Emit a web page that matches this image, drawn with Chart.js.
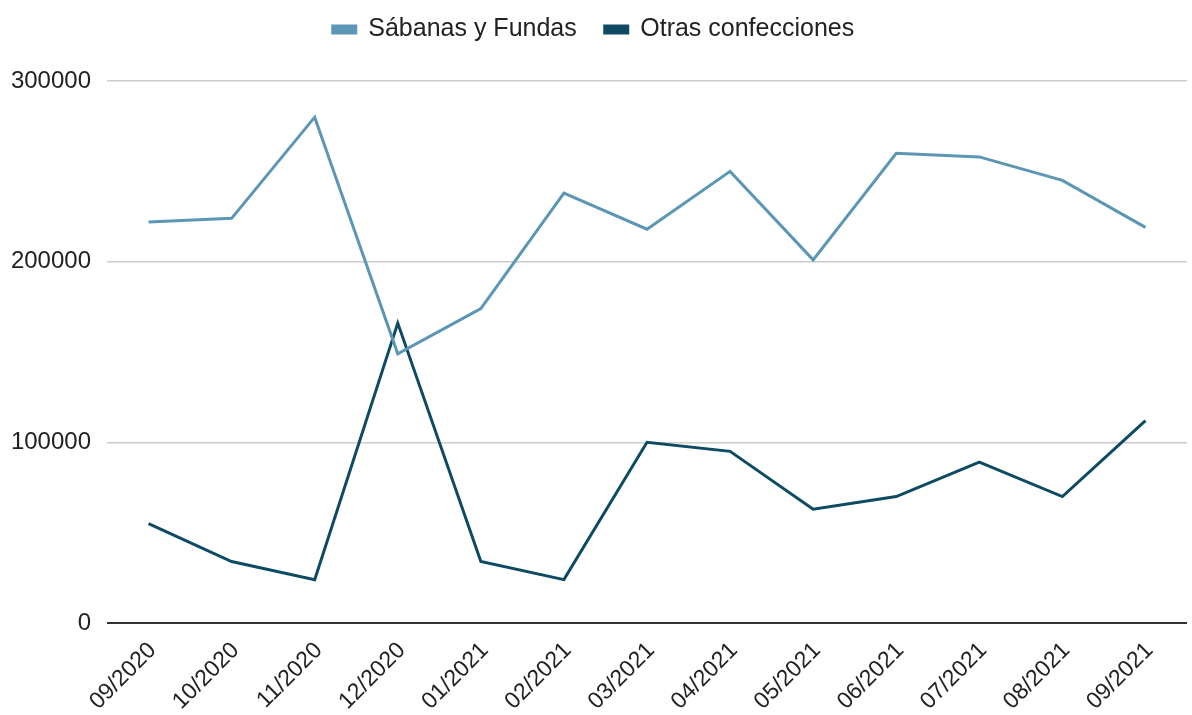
<!DOCTYPE html>
<html>
<head>
<meta charset="utf-8">
<script src="https://cdn.jsdelivr.net/npm/chart.js@4"></script>
<style>
  html, body { margin: 0; padding: 0; background: #fff; }
  #wrap { width: 1192px; height: 715px; position: relative; }
</style>
</head>
<body>
<div id="wrap"><canvas id="chart"></canvas></div>
<script>
const months = ["09/2020", "10/2020", "11/2020", "12/2020", "01/2021", "02/2021", "03/2021",
                "04/2021", "05/2021", "06/2021", "07/2021", "08/2021", "09/2021"];
const sabanas = [222000, 224000, 280000, 149000, 174000, 238000, 218000, 250000, 201000, 260000, 258000, 245000, 219000];
const otras = [55000, 34000, 24000, 166000, 34000, 24000, 100000, 95000, 63000, 70000, 89000, 70000, 112000];
const yTicks = [0, 100000, 200000, 300000];

Chart.defaults.font.family = "'Liberation Sans', Arial, sans-serif";
Chart.defaults.color = "#222";

new Chart(document.getElementById("chart"), {
    type: 'line',
    data: {
        labels: months,
        datasets: [{
            label: 'Sábanas y Fundas',
            data: sabanas,
            borderColor: '#5b96b5',
            backgroundColor: '#5b96b5',
            borderWidth: 3,
            pointRadius: 0,
            tension: 0,
            fill: false
        }, {
            label: 'Otras confecciones',
            data: otras,
            borderColor: '#0d4a63',
            backgroundColor: '#0d4a63',
            borderWidth: 3,
            pointRadius: 0,
            tension: 0,
            fill: false
        }]
    },
    options: {
        responsive: true,
        maintainAspectRatio: false,
        animation: false,
        layout: { padding: { left: 0, right: 5, top: -11, bottom: 0 } },
        plugins: {
            legend: {
                position: 'top',
                labels: {
                    boxWidth: 23,
                    boxHeight: 7,
                    padding: 28,
                    font: { size: 25 },
                    color: '#222'
                }
            },
            // empty title used as a spacer below the legend
            title: {
                display: true,
                text: ' ',
                weight: 500,
                padding: 0,
                font: { size: 24.2 }
            },
            tooltip: { enabled: false }
        },
        scales: {
            x: {
                offset: true,
                afterFit: axis => { axis.height = 92; },
                grid: { display: false, drawTicks: false },
                border: { display: false },
                ticks: {
                    maxRotation: 45,
                    minRotation: 45,
                    padding: 14,
                    labelOffset: 4,
                    font: { size: 23 },
                    color: '#222'
                }
            },
            y: {
                min: 0,
                max: 300000,
                afterFit: axis => { axis.width = 107; },
                afterBuildTicks: axis => { axis.ticks = yTicks.map(v => ({ value: v })); },
                grid: {
                    drawTicks: false,
                    color: ctx => ctx.tick && ctx.tick.value === 0 ? '#333' : '#cccccc',
                    lineWidth: ctx => ctx.tick && ctx.tick.value === 0 ? 2 : 1.5
                },
                border: { display: false },
                ticks: {
                    padding: 16,
                    font: { size: 24 },
                    color: '#222',
                    callback: v => String(v)
                }
            }
        }
    }
});
</script>
</body>
</html>
